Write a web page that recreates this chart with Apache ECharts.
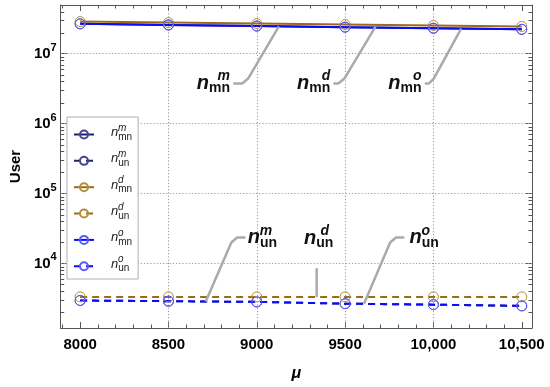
<!DOCTYPE html>
<html>
<head>
<meta charset="utf-8">
<script src="https://cdn.jsdelivr.net/npm/echarts@6.0.0/dist/echarts.min.js"></script>
<style>
html, body { margin:0; padding:0; background:#fff; }
#chart { width:550px; height:387px; }
</style>
</head>
<body>
<div id="chart"></div>
<script>
// ---------------- data ----------------
const mu = [8000, 8500, 9000, 9500, 10000, 10500];
const xTickLabels = ['8000', '8500', '9000', '9500', '10,000', '10,500'];
const nMnM = [2.671e7, 2.576e7, 2.485e7, 2.397e7, 2.312e7, 2.230e7];
const nUnM = [2948, 2880, 2815, 2655, 2570, 2470];
const nMnD = [2.880e7, 2.786e7, 2.697e7, 2.610e7, 2.526e7, 2.445e7];
const nUnD = [3320, 3320, 3320, 3320, 3320, 3320];
const nMnO = [2.671e7, 2.576e7, 2.485e7, 2.397e7, 2.312e7, 2.230e7];
const nUnO = [2948, 2880, 2815, 2655, 2570, 2470];

const xRange = [7890, 10558];
const yRange = [1191, 4.97e7];
const xGridValues = [8500, 9000, 9500, 10000];
const yGridValues = [1e4, 1e5, 1e6, 1e7];
const yMinorMultipliers = [2, 3, 4, 5, 6, 7, 8, 9];
const yMinorDecades = [1e3, 1e4, 1e5, 1e6, 1e7];
const xMinorTicks = [7900, 8100, 8200, 8300, 8400, 8600, 8700, 8800, 8900, 9100, 9200, 9300, 9400,
                     9600, 9700, 9800, 9900, 10100, 10200, 10300, 10400];

// callout leader lines (data coordinates)
const calloutMnM = [[9125, 2.45e7], [8951, 4.41e6], [8917, 3.74e6], [8867, 3.74e6]];
const calloutMnD = [[9672, 2.44e7], [9496, 4.41e6], [9462, 3.74e6], [9434, 3.74e6]];
const calloutMnO = [[10157, 2.28e7], [10002, 4.41e6], [9974, 3.74e6], [9951, 3.74e6]];
const calloutUnM = [[8711, 2.85e3], [8856, 1.99e4], [8889, 2.35e4], [8936, 2.35e4]];
const calloutUnD = [[9339, 3.32e3], [9339, 8.5e3]];
const calloutUnO = [[9607, 2.64e3], [9755, 1.99e4], [9788, 2.35e4], [9835, 2.35e4]];

// ---------------- styling ----------------
const FONT = '"Liberation Sans", Arial, Helvetica, sans-serif';
const FRAME = '#555';
const C = {
  navy: '#1f1f6e', navyM: '#45458a',
  brown: '#9b6b17', brownM: '#b58d42',
  blue: '#0b0bff', blueM: '#5a5aff'
};

function pairs(xs, ys) { return xs.map((x, i) => [x, ys[i]]); }

function legendText(sup, sub) {
  return '{lp| }{lsup|' + sup + '}\n{lg| }{ln|n}{lsub|' + sub + '}';
}
function calloutText(sup, sub) {
  return '{cp| }{csup|' + sup + '}\n{cn|n}{csub|' + sub + '}';
}

const legendRich = {
  lp: { width: 19, height: 4.5, lineHeight: 4.5 },
  lsup: { fontSize: 10, fontStyle: 'italic', height: 1, lineHeight: 1, verticalAlign: 'bottom', fontFamily: FONT, color: '#222' },
  lg: { width: 12, height: 8, lineHeight: 8 },
  ln: { fontSize: 13, fontStyle: 'italic', height: 8, lineHeight: 8, verticalAlign: 'top', fontFamily: FONT, color: '#222' },
  lsub: { fontSize: 10, height: 17, lineHeight: 17, verticalAlign: 'top', fontFamily: FONT, color: '#222' }
};
const calloutRich = {
  cp: { width: 12, height: 2, lineHeight: 2 },
  csup: { fontSize: 14, fontWeight: 'bold', fontStyle: 'italic', height: 2, lineHeight: 2, fontFamily: FONT, color: '#111' },
  cn: { fontSize: 20, fontWeight: 'bold', fontStyle: 'italic', height: 12, lineHeight: 12, verticalAlign: 'top', fontFamily: FONT, color: '#111' },
  csub: { fontSize: 14, fontWeight: 'bold', height: 23, lineHeight: 23, fontFamily: FONT, color: '#111' }
};

const seriesDefs = [
  { name: 'nmnm', ys: nMnM, color: C.navy, mcolor: C.navyM, dashed: false, sup: 'm', sub: 'mn' },
  { name: 'nunm', ys: nUnM, color: C.navy, mcolor: C.navyM, dashed: true, sup: 'm', sub: 'un' },
  { name: 'nmnd', ys: nMnD, color: C.brown, mcolor: C.brownM, dashed: false, sup: 'd', sub: 'mn' },
  { name: 'nund', ys: nUnD, color: C.brown, mcolor: C.brownM, dashed: true, sup: 'd', sub: 'un' },
  { name: 'nmno', ys: nMnO, color: C.blue, mcolor: C.blueM, dashed: false, sup: 'o', sub: 'mn' },
  { name: 'nuno', ys: nUnO, color: C.blue, mcolor: C.blueM, dashed: true, sup: 'o', sub: 'un' }
];
const legendMap = {};
seriesDefs.forEach(d => { legendMap[d.name] = legendText(d.sup, d.sub); });

function dataSeries(d, extra) {
  return Object.assign({
    type: 'line', name: d.name, data: pairs(mu, d.ys),
    symbol: 'circle', symbolSize: 10, showAllSymbol: true,
    lineStyle: { color: d.color, width: 2, type: d.dashed ? [7, 5] : 'solid' },
    itemStyle: { color: 'rgba(255,255,255,0)', borderColor: d.mcolor, borderWidth: 1 },
    emphasis: { disabled: true }, silent: true, z: 3
  }, extra || {});
}

function calloutSeries(pts, labelIdx, labelOpt) {
  const data = pts.map((p, i) => {
    if (i !== labelIdx) return { value: p };
    return { value: p, label: Object.assign({ show: true, rich: calloutRich }, labelOpt) };
  });
  return {
    type: 'line', data, symbol: 'circle', symbolSize: 0.5,
    itemStyle: { color: 'rgba(0,0,0,0)' },
    lineStyle: { color: '#aaaaaa', width: 2.5 },
    emphasis: { disabled: true }, silent: true, z: 4
  };
}

const yMinorTicks = [];
yMinorDecades.forEach(dec => yMinorMultipliers.forEach(m => yMinorTicks.push(m * dec)));

const series = [];
// minor ticks on log axes (left + right frame)
series.push({
  type: 'custom', silent: true, z: 6,
  data: yMinorTicks.map(v => [mu[0], v]),
  encode: { x: 0, y: 1 },
  renderItem: (params, api) => {
    const cs = params.coordSys;
    const y = api.coord([api.value(0), api.value(1)])[1];
    if (y < cs.y + 0.5 || y > cs.y + cs.height - 0.5) return null;
    const yy = Math.round(y) + 0.5;
    return { type: 'group', children: [
      { type: 'line', shape: { x1: cs.x, y1: yy, x2: cs.x + 3.5, y2: yy }, style: { stroke: FRAME, lineWidth: 1 } },
      { type: 'line', shape: { x1: cs.x + cs.width - 3.5, y1: yy, x2: cs.x + cs.width, y2: yy }, style: { stroke: FRAME, lineWidth: 1 } }
    ] };
  }
});
// minor ticks on x axes (bottom + top frame)
series.push({
  type: 'custom', silent: true, z: 6,
  data: xMinorTicks.map(v => [v, 1e5]),
  encode: { x: 0, y: 1 },
  renderItem: (params, api) => {
    const cs = params.coordSys;
    const x = api.coord([api.value(0), api.value(1)])[0];
    if (x < cs.x + 0.5 || x > cs.x + cs.width - 0.5) return null;
    const xx = Math.round(x) + 0.5;
    return { type: 'group', children: [
      { type: 'line', shape: { x1: xx, y1: cs.y + cs.height, x2: xx, y2: cs.y + cs.height - 3.5 }, style: { stroke: FRAME, lineWidth: 1 } },
      { type: 'line', shape: { x1: xx, y1: cs.y, x2: xx, y2: cs.y + 3.5 }, style: { stroke: FRAME, lineWidth: 1 } }
    ] };
  }
});

seriesDefs.forEach((d, i) => {
  const extra = {};
  if (i === 0) {
    extra.markLine = {
      silent: true, symbol: 'none', z: 1, animation: false,
      label: { show: false },
      lineStyle: { color: '#999', width: 1, type: [1.2, 2] },
      emphasis: { disabled: true },
      data: xGridValues.map(v => ({ xAxis: v })).concat(yGridValues.map(v => ({ yAxis: v })))
    };
  }
  series.push(dataSeries(d, extra));
});

series.push(calloutSeries(calloutMnM, 3, { position: 'left', distance: 3, offset: [0, 4], formatter: calloutText('m', 'mn') }));
series.push(calloutSeries(calloutMnD, 3, { position: 'left', distance: 3, offset: [0, 4], formatter: calloutText('d', 'mn') }));
series.push(calloutSeries(calloutMnO, 3, { position: 'left', distance: 3, offset: [0, 4], formatter: calloutText('o', 'mn') }));
series.push(calloutSeries(calloutUnM, 3, { position: 'right', distance: 2, offset: [0, 5], formatter: calloutText('m', 'un') }));
series.push(calloutSeries(calloutUnD, 1, { position: 'top', distance: 13, offset: [2, 0], formatter: calloutText('d', 'un') }));
series.push(calloutSeries(calloutUnO, 3, { position: 'right', distance: 5, offset: [0, 5], formatter: calloutText('o', 'un') }));

function yLabel(v) {
  const e = Math.log10(v);
  const r = Math.round(e);
  if (Math.abs(e - r) > 1e-6) return '';
  return '{b|10}{s|' + r + '}';
}
function xLabel(v) {
  const i = mu.indexOf(Math.round(v));
  return i >= 0 ? xTickLabels[i] : '';
}

const axisCommonX = {
  type: 'value', min: xRange[0], max: xRange[1], splitNumber: 5,
  axisLine: { show: true, onZero: false, lineStyle: { color: FRAME, width: 1 } },
  axisTick: { show: true, inside: true, length: 6, lineStyle: { color: FRAME, width: 1 } },
  splitLine: { show: false }
};
const axisCommonY = {
  type: 'log', logBase: 10, min: yRange[0], max: yRange[1], splitNumber: 5,
  axisLine: { show: true, onZero: false, lineStyle: { color: FRAME, width: 1 } },
  axisTick: { show: true, inside: true, length: 6, lineStyle: { color: FRAME, width: 1 } },
  splitLine: { show: false }
};

const option = {
  animation: false,
  backgroundColor: '#ffffff',
  textStyle: { fontFamily: FONT },
  grid: { left: 57, right: 18, top: 5, bottom: 57, containLabel: false },
  legend: {
    data: seriesDefs.map(d => d.name),
    orient: 'vertical', left: 67, top: 117,
    padding: [3, 6, 2, 6], itemGap: 1.1,
    itemWidth: 20, itemHeight: 10,
    backgroundColor: '#ffffff', borderColor: '#b0b0b0', borderWidth: 1, borderRadius: 0,
    selectedMode: false,
    formatter: name => legendMap[name],
    textStyle: { rich: legendRich, color: '#222', fontFamily: FONT }
  },
  xAxis: [
    Object.assign({}, axisCommonX, {
      position: 'bottom',
      name: 'μ', nameLocation: 'middle', nameGap: 38,
      nameTextStyle: { fontSize: 16, fontWeight: 'bold', fontStyle: 'italic', color: '#000', fontFamily: FONT },
      axisLabel: { formatter: xLabel, fontSize: 15, fontWeight: 'bold', color: '#000', margin: 9, fontFamily: FONT }
    }),
    Object.assign({}, axisCommonX, { position: 'top', axisLabel: { show: false } })
  ],
  yAxis: [
    Object.assign({}, axisCommonY, {
      position: 'left',
      name: 'User', nameLocation: 'middle', nameGap: 36,
      nameTextStyle: { fontSize: 15, fontWeight: 'bold', color: '#000', fontFamily: FONT },
      axisLabel: {
        formatter: yLabel, margin: 4, color: '#000',
        rich: {
          b: { fontSize: 15, fontWeight: 'bold', height: 15, lineHeight: 18, color: '#000', fontFamily: FONT },
          s: { fontSize: 11, fontWeight: 'bold', height: 6, lineHeight: 6, verticalAlign: 'top', color: '#000', fontFamily: FONT }
        }
      }
    }),
    Object.assign({}, axisCommonY, { position: 'right', axisLabel: { show: false } })
  ],
  series
};

const chart = echarts.init(document.getElementById('chart'), null, { renderer: 'canvas' });
chart.setOption(option);
</script>
</body>
</html>
